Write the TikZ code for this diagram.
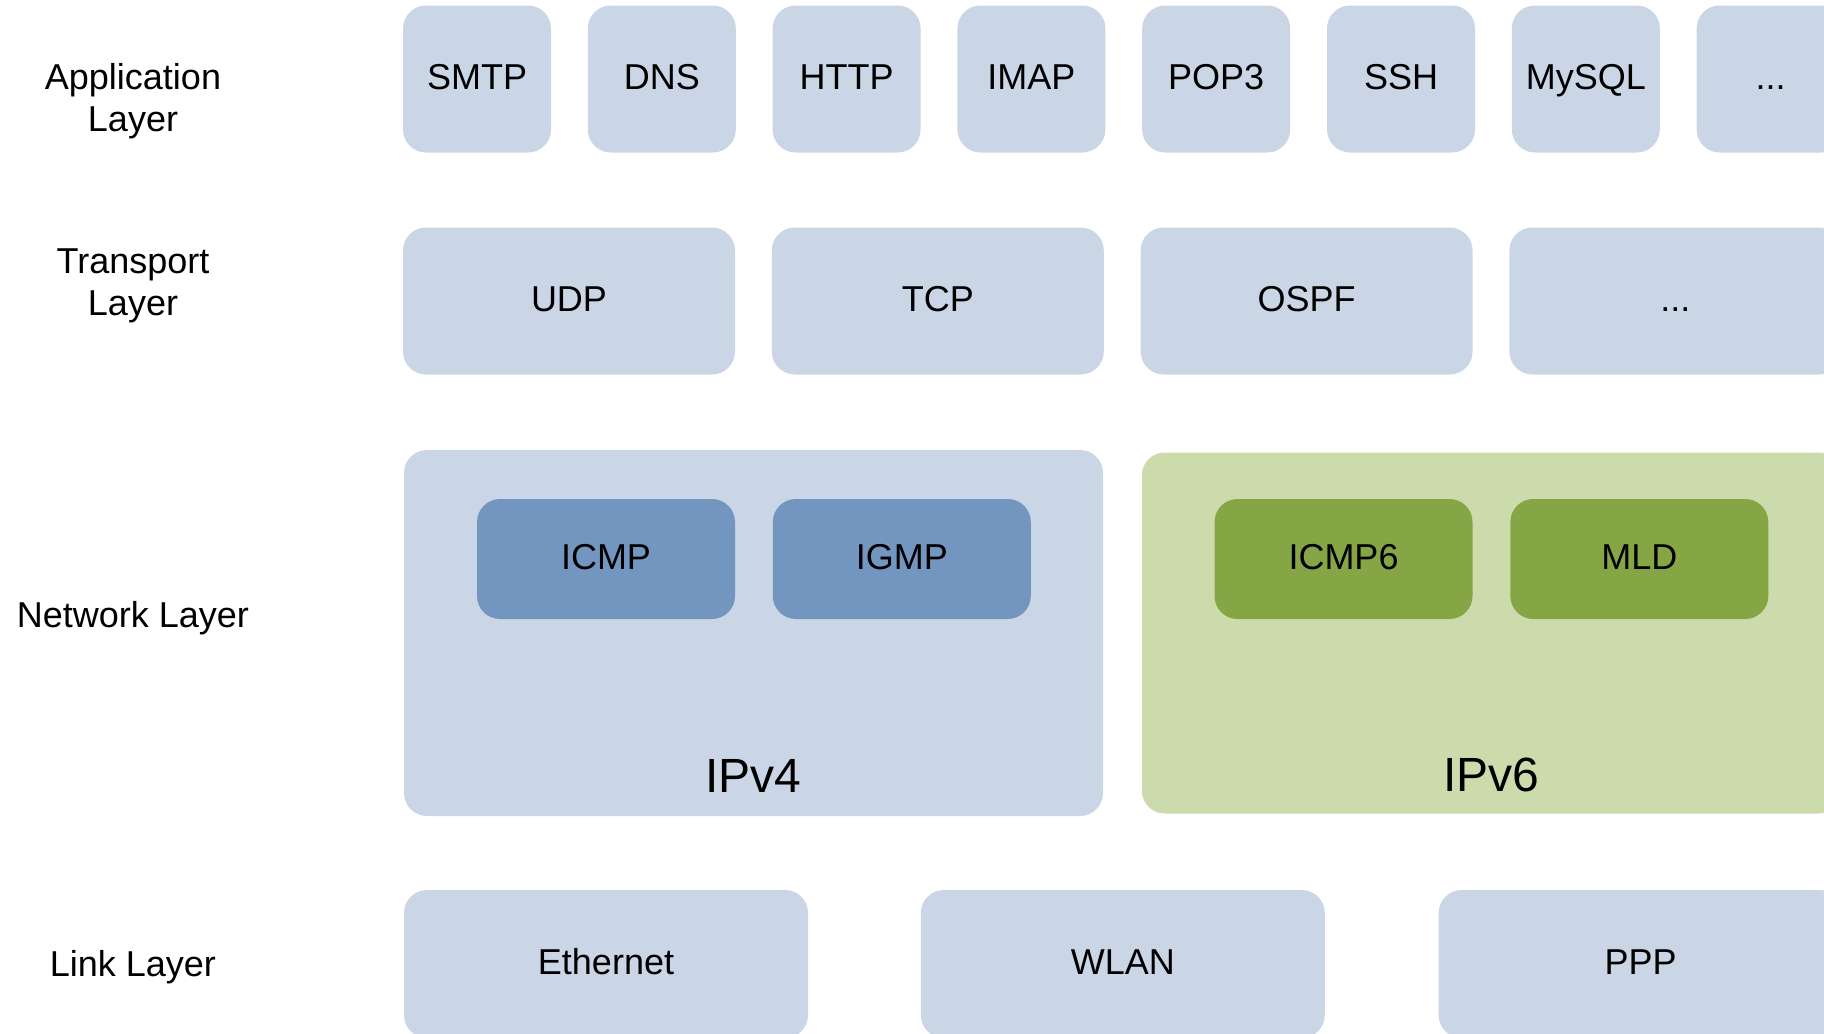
\documentclass[tikz,border=0pt]{standalone}
\usepackage{fontspec}
\setmainfont{Liberation Sans}
\usetikzlibrary{positioning}

\definecolor{paleblue}{HTML}{CAD6E6}
\definecolor{deepblue}{HTML}{7396C0}
\definecolor{palegreen}{HTML}{CCDBAC}
\definecolor{deepgreen}{HTML}{86A545}

\tikzset{
  box/.style={rounded corners=11.5pt, inner sep=0pt, text height=10.7pt, text depth=0pt,
    font=\fontsize{18}{21}\selectfont},
  appbox/.style={box, fill=paleblue, minimum width=74pt, minimum height=73.5pt},
  transbox/.style={box, fill=paleblue, minimum width=166pt, minimum height=73.5pt},
  netbox/.style={box, minimum width=349.5pt, minimum height=183pt},
  subbox/.style={box, minimum width=129pt, minimum height=60pt},
  linkbox/.style={box, fill=paleblue, minimum width=202pt, minimum height=74pt},
  layername/.style={align=center, font=\fontsize{18}{21}\selectfont},
  ipname/.style={inner sep=0pt, font=\fontsize{24}{28}\selectfont}
}

\begin{document}
\begin{tikzpicture}[x=0.5pt, y=-0.5pt]

\useasboundingbox (0,0) rectangle (1824,1033);
\clip (0,0) rectangle (1824,1033);

% Layer names
\node[layername] (appname) at (133,101) {Application\\Layer};
\node[layername] (transname) at (133,286) {Transport\\Layer};
\node[layername] (netname) at (133,618) {Network Layer};
\node[layername] (linkname) at (133,967) {Link Layer};

% Application layer
\node[appbox] (smtp) at (477,79) {SMTP};
\node[appbox, right=18pt of smtp] (dns) {DNS};
\node[appbox, right=18pt of dns] (http) {HTTP};
\node[appbox, right=18pt of http] (imap) {IMAP};
\node[appbox, right=18pt of imap] (pop) {POP3};
\node[appbox, right=18pt of pop] (ssh) {SSH};
\node[appbox, right=18pt of ssh] (mysql) {MySQL};
\node[appbox, right=18pt of mysql] (appmore) {...};

% Transport layer
\node[transbox] (udp) at (569,301) {UDP};
\node[transbox, right=18pt of udp] (tcp) {TCP};
\node[transbox, right=18pt of tcp] (ospf) {OSPF};
\node[transbox, right=18pt of ospf] (transmore) {...};

% Network layer
\node[netbox, fill=paleblue] (ipv4) at (753.5,633) {};
\node[netbox, fill=palegreen, minimum height=180.5pt, right=19pt of ipv4] (ipv6) {};
\node[ipname, above=12pt of ipv4.south] (ipv4name) {IPv4};
\node[ipname, above=12pt of ipv4.south -| ipv6] (ipv6name) {IPv6};

\node[subbox, fill=deepblue] (icmp) at (606,559) {ICMP};
\node[subbox, fill=deepblue, right=18.5pt of icmp] (igmp) {IGMP};
\node[subbox, fill=deepgreen] (icmpsix) at (1343.5,559) {ICMP6};
\node[subbox, fill=deepgreen, right=18.5pt of icmpsix] (mld) {MLD};

% Link layer
\node[linkbox] (ethernet) at (606,964) {Ethernet};
\node[linkbox, right=56pt of ethernet] (wlan) {WLAN};
\node[linkbox, right=56.5pt of wlan] (ppp) {PPP};

\end{tikzpicture}
\end{document}
